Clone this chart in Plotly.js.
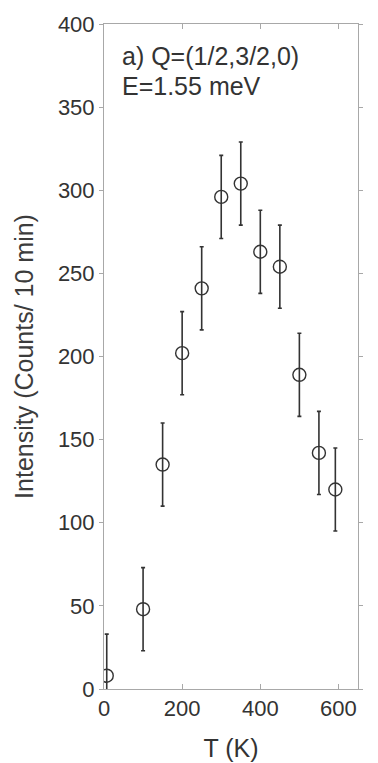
<!DOCTYPE html>
<html>
<head>
<meta charset="utf-8">
<script src="https://cdn.plot.ly/plotly-3.0.1.min.js"></script>
<style>
  html, body { margin: 0; padding: 0; background: #ffffff; }
  #chart { width: 378px; height: 763px; }
</style>
</head>
<body>
<div id="chart"></div>
<script>
// Data
const temperatureK = [7, 100, 150, 200, 250, 300, 350, 400, 450, 500, 550, 592];
const intensity = [8, 48, 135, 202, 241, 296, 304, 263, 254, 189, 142, 120];
const intensityError = [25, 25, 25, 25, 25, 25, 25, 25, 25, 25, 25, 25];
const xTickValues = [0, 200, 400, 600];
const yTickValues = [0, 50, 100, 150, 200, 250, 300, 350, 400];
const labelLine1 = "a) Q=(1/2,3/2,0)";
const labelLine2 = "E=1.55 meV";

const FONT = '"Liberation Sans", Arial, Helvetica, sans-serif';
const INK = '#333333';
const FRAME = '#a8a8a8';

const trace = {
  x: temperatureK,
  y: intensity,
  type: 'scatter',
  mode: 'markers',
  marker: {
    symbol: 'circle-open',
    size: 13,
    color: INK,
    line: { width: 1.4, color: INK }
  },
  error_y: {
    type: 'data',
    array: intensityError,
    visible: true,
    color: INK,
    thickness: 1.6,
    width: 2
  },
  cliponaxis: true,
  showlegend: false,
  hoverinfo: 'x+y'
};

const layout = {
  width: 378,
  height: 763,
  margin: { l: 104, r: 20, t: 24, b: 74 },
  paper_bgcolor: '#ffffff',
  plot_bgcolor: '#ffffff',
  font: { family: FONT, color: INK, size: 22 },
  showlegend: false,
  xaxis: {
    range: [0, 650],
    tickvals: xTickValues,
    ticktext: xTickValues.map(String),
    ticks: 'inside',
    ticklen: 5,
    tickwidth: 1,
    tickcolor: FRAME,
    showline: true,
    linecolor: FRAME,
    linewidth: 1,
    mirror: 'ticks',
    showgrid: false,
    zeroline: false,
    tickfont: { family: FONT, size: 22, color: INK },
    title: { text: 'T (K)', font: { family: FONT, size: 25, color: INK }, standoff: 19 }
  },
  yaxis: {
    range: [0, 400],
    tickvals: yTickValues,
    ticktext: yTickValues.map(String),
    ticks: 'outside',
    ticklen: 4,
    tickwidth: 1,
    tickcolor: FRAME,
    showline: true,
    linecolor: FRAME,
    linewidth: 1,
    mirror: 'ticks',
    showgrid: false,
    zeroline: false,
    tickfont: { family: FONT, size: 22, color: INK },
    title: { text: 'Intensity (Counts/ 10 min)', font: { family: FONT, size: 25, color: '#3c3c3c' }, standoff: 17 }
  },
  annotations: [
    {
      text: labelLine1,
      xref: 'paper', yref: 'paper',
      x: 0.063, y: 0.952,
      xanchor: 'left', yanchor: 'middle',
      showarrow: false,
      font: { family: FONT, size: 25, color: INK }
    },
    {
      text: labelLine2,
      xref: 'paper', yref: 'paper',
      x: 0.063, y: 0.907,
      xanchor: 'left', yanchor: 'middle',
      showarrow: false,
      font: { family: FONT, size: 25, color: INK }
    }
  ]
};

Plotly.newPlot('chart', [trace], layout, { staticPlot: true, displayModeBar: false });
</script>
</body>
</html>
